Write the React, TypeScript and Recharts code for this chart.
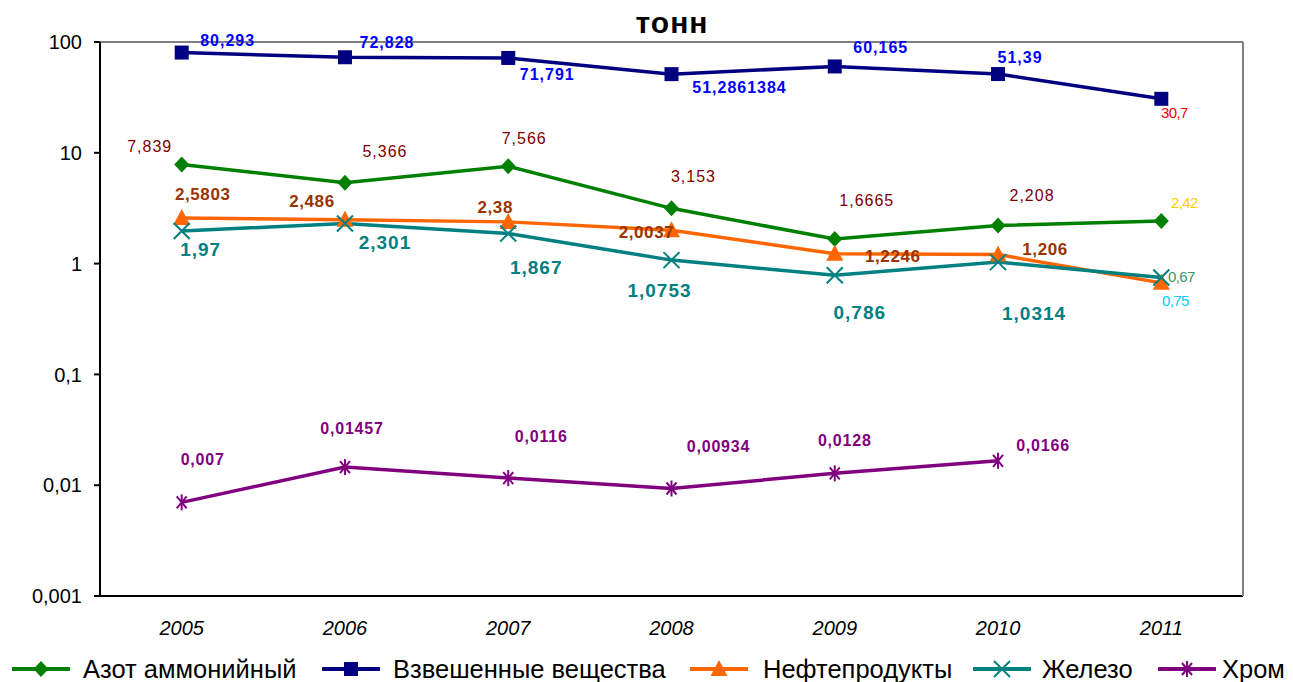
import React from "react";
import { LineChart, Line, XAxis, YAxis, ReferenceLine, LabelList } from "recharts";

const years = ["2005", "2006", "2007", "2008", "2009", "2010", "2011"];
const azot = [7.839, 5.366, 7.566, 3.153, 1.6665, 2.208, 2.42];
const vzvesh = [80.293, 72.828, 71.791, 51.2861384, 60.165, 51.39, 30.7];
const neft = [2.5803, 2.486, 2.38, 2.0037, 1.2246, 1.206, 0.67];
const zhelezo = [1.97, 2.301, 1.867, 1.0753, 0.786, 1.0314, 0.75];
const khrom = [0.007, 0.01457, 0.0116, 0.00934, 0.0128, 0.0166, null];
const yTicks = [0.001, 0.01, 0.1, 1, 10, 100];
const edgeTicks = [0, 1, 2, 3, 4, 5, 6, 7];

// label offsets from the point (text centre)
const vzveshOff = [[46, -12], [42, -15], [39, 17], [68, 13], [46, -19], [22, -17], [13, 14]];
const azotOff = [[-32, -18], [40, -31], [16, -28], [22, -32], [32, -39], [34, -30], [23, -19]];
const neftOff = [[21, -23], [-33, -18], [-13, -14], [-25, 2], [58, 3], [47, -5], [20, -6]];
const zhelezoOff = [[19, 19], [40, 19], [28, 34], [-12, 30], [25, 37], [36, 51], [14, 23]];
const khromOff = [[21, -43], [7, -39], [33, -42], [47, -42], [10, -33], [45, -15], [0, 0]];

// legend item left edges
const legendLeft = [12, 322, 690, 973, 1158];
const legendTextGap = [13, 13, 15, 11, 6];

const data = years.map((y, i) => ({
  year: y,
  azot: azot[i],
  vzvesh: vzvesh[i],
  neft: neft[i],
  zhelezo: zhelezo[i],
  khrom: khrom[i],
}));

const FONT = "'Liberation Sans', Arial, sans-serif";
const fmt = (v: number) => String(v).replace(".", ",");

type LabelStyle = { color: string; weight: string; size: number; spacing: number };
const smallLabel = (color: string): LabelStyle => ({ color, weight: "normal", size: 15, spacing: -0.6 });

function makeLabel(offsets: number[][], base: LabelStyle, last?: LabelStyle) {
  return (props: any) => {
    const { x, y, value, index } = props;
    if (value == null || x == null || y == null) return null;
    const st = index === years.length - 1 && last ? last : base;
    const [dx, dy] = offsets[index];
    return (
      <text
        x={x + dx}
        y={y + dy}
        textAnchor="middle"
        dominantBaseline="central"
        fill={st.color}
        fontWeight={st.weight}
        fontSize={st.size}
        letterSpacing={st.spacing}
        fontFamily={FONT}
      >
        {fmt(value)}
      </text>
    );
  };
}

function Marker({ kind, cx, cy, color }: { kind: string; cx: number; cy: number; color: string }) {
  if (kind === "diamond")
    return <polygon points={`${cx},${cy - 8} ${cx + 7.5},${cy} ${cx},${cy + 8} ${cx - 7.5},${cy}`} fill={color} />;
  if (kind === "square") return <rect x={cx - 7} y={cy - 7} width={14} height={14} fill={color} />;
  if (kind === "triangle")
    return <polygon points={`${cx},${cy - 9} ${cx + 8.5},${cy + 7} ${cx - 8.5},${cy + 7}`} fill={color} />;
  if (kind === "x")
    return (
      <g stroke={color} strokeWidth={2}>
        <line x1={cx - 8} y1={cy - 8} x2={cx + 8} y2={cy + 8} />
        <line x1={cx - 8} y1={cy + 8} x2={cx + 8} y2={cy - 8} />
      </g>
    );
  return (
    <g stroke={color} strokeWidth={2}>
      <line x1={cx} y1={cy - 8} x2={cx} y2={cy + 8} />
      <line x1={cx - 5} y1={cy - 6} x2={cx + 5} y2={cy + 6} />
      <line x1={cx - 5} y1={cy + 6} x2={cx + 5} y2={cy - 6} />
    </g>
  );
}

const makeDot = (kind: string, color: string) => (props: any) => {
  const { cx, cy, index, value } = props;
  if (value == null || cx == null || cy == null) return <g key={`n-${kind}-${index}`} />;
  return (
    <g key={`${kind}-${index}`}>
      <Marker kind={kind} cx={cx} cy={cy} color={color} />
    </g>
  );
};

const series = [
  { key: "azot", name: "Азот аммонийный", color: "#008000", marker: "diamond" },
  { key: "vzvesh", name: "Взвешенные вещества", color: "#000080", marker: "square" },
  { key: "neft", name: "Нефтепродукты", color: "#FF6600", marker: "triangle" },
  { key: "zhelezo", name: "Железо", color: "#008080", marker: "x" },
  { key: "khrom", name: "Хром", color: "#800080", marker: "star" },
];

const YearTick = (props: any) => {
  const { x, y, payload } = props;
  return (
    <text x={x} y={y + 38} textAnchor="middle" fontSize={20} fontStyle="italic" fontFamily={FONT} fill="#000">
      {payload.value}
    </text>
  );
};

export default function App() {
  return (
    <div style={{ position: "absolute", left: 0, top: 0, width: 1293, height: 682, background: "#fff", fontFamily: FONT }}>
      <LineChart width={1293} height={682} data={data} margin={{ top: 42, right: 49, bottom: 44, left: 0 }}>
        <XAxis
          xAxisId="cat"
          dataKey="year"
          height={41}
          padding={{ left: 81.7, right: 81.7 }}
          axisLine={false}
          tickLine={false}
          tickSize={0}
          tickMargin={0}
          tick={<YearTick />}
          interval={0}
        />
        <XAxis
          xAxisId="a0"
          type="number"
          domain={[0, 7]}
          ticks={edgeTicks}
          allowDataOverflow
          height={1}
          tick={false}
          tickSize={7}
          axisLine={{ stroke: "#000", strokeWidth: 2 }}
          tickLine={{ stroke: "#000", strokeWidth: 2 }}
        />
        <YAxis
          yAxisId="left"
          scale="log"
          domain={[0.001, 100]}
          ticks={yTicks}
          allowDataOverflow
          width={100}
          tickSize={6}
          tickMargin={12}
          tickFormatter={fmt}
          tick={{ fill: "#000", fontSize: 20, fontFamily: FONT }}
          axisLine={{ stroke: "#000", strokeWidth: 2 }}
          tickLine={{ stroke: "#000", strokeWidth: 2 }}
        />
        <YAxis
          yAxisId="right"
          orientation="right"
          type="number"
          domain={[0, 1]}
          width={1}
          tick={false}
          tickLine={false}
          axisLine={{ stroke: "#808080", strokeWidth: 2 }}
        />
        <ReferenceLine yAxisId="left" xAxisId="cat" y={100} stroke="#808080" strokeWidth={2} />
        {series.map((s) => (
          <Line
            key={s.key}
            xAxisId="cat"
            yAxisId="left"
            dataKey={s.key}
            name={s.name}
            stroke={s.color}
            strokeWidth={3.5}
            dot={makeDot(s.marker, s.color)}
            activeDot={false}
            isAnimationActive={false}
          >
            {s.key === "vzvesh" && (
              <LabelList
                dataKey="vzvesh"
                content={makeLabel(
                  vzveshOff,
                  { color: "#0000FF", weight: "bold", size: 16, spacing: 1 },
                  smallLabel("#FF0000")
                )}
              />
            )}
            {s.key === "azot" && (
              <LabelList
                dataKey="azot"
                content={makeLabel(
                  azotOff,
                  { color: "#800000", weight: "normal", size: 16, spacing: 1 },
                  smallLabel("#FFCC00")
                )}
              />
            )}
            {s.key === "neft" && (
              <LabelList
                dataKey="neft"
                content={makeLabel(
                  neftOff,
                  { color: "#993300", weight: "bold", size: 17, spacing: 0.6 },
                  smallLabel("#339966")
                )}
              />
            )}
            {s.key === "zhelezo" && (
              <LabelList
                dataKey="zhelezo"
                content={makeLabel(
                  zhelezoOff,
                  { color: "#008080", weight: "bold", size: 19, spacing: 1 },
                  smallLabel("#00CCFF")
                )}
              />
            )}
            {s.key === "khrom" && (
              <LabelList
                dataKey="khrom"
                content={makeLabel(khromOff, { color: "#800080", weight: "bold", size: 16, spacing: 0.8 })}
              />
            )}
          </Line>
        ))}
      </LineChart>
      <svg width={1293} height={50} style={{ position: "absolute", left: 0, top: 0, pointerEvents: "none" }}>
        <text x={672} y={33} textAnchor="middle" fontSize={30} fontWeight="bold" fontFamily={FONT} letterSpacing={1}>
          тонн
        </text>
      </svg>
      {series.map((s, i) => (
        <div
          key={s.key}
          style={{
            position: "absolute",
            left: legendLeft[i],
            top: 655,
            height: 28,
            display: "flex",
            alignItems: "center",
            fontSize: 25.5,
            color: "#000",
            whiteSpace: "nowrap",
          }}
        >
          <svg width={58} height={20}>
            <line x1={1} y1={10} x2={57} y2={10} stroke={s.color} strokeWidth={4} strokeLinecap="round" />
            <Marker kind={s.marker} cx={29} cy={10} color={s.color} />
          </svg>
          <span style={{ marginLeft: legendTextGap[i] }}>{s.name}</span>
        </div>
      ))}
    </div>
  );
}
